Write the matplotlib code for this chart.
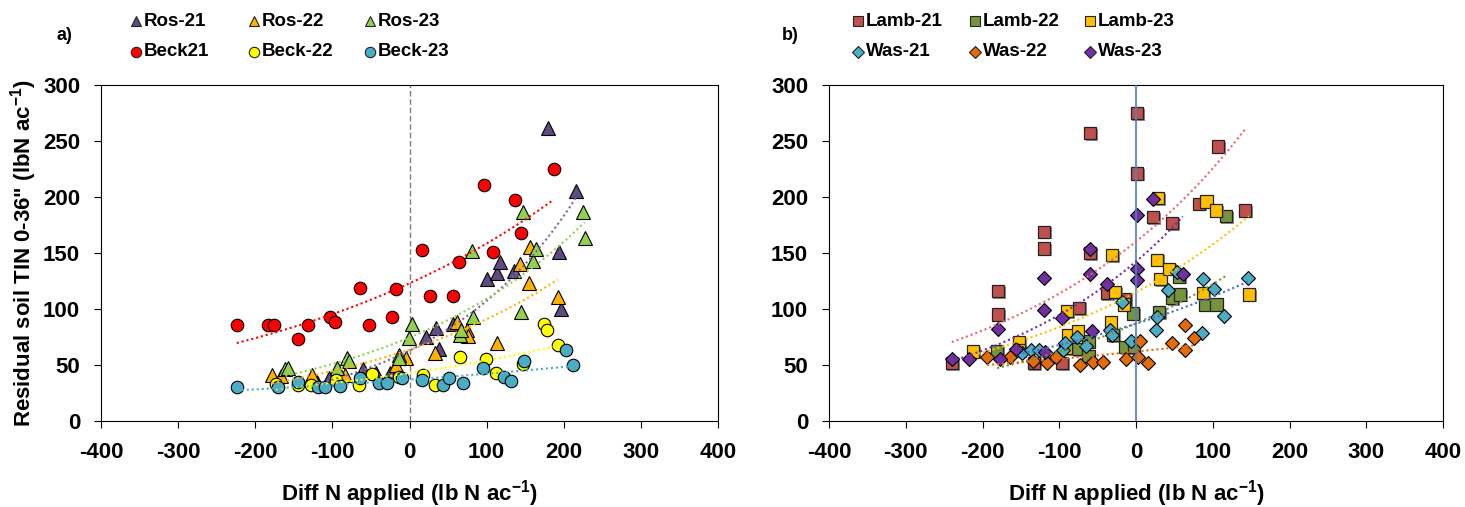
import matplotlib
matplotlib.use("Agg")
import matplotlib.pyplot as plt
import matplotlib.patheffects as pe
from matplotlib.lines import Line2D
import numpy as np

plt.rcParams['font.family'] = ['Liberation Sans', 'DejaVu Sans']
plt.rcParams['font.weight'] = 'bold'
plt.rcParams['axes.unicode_minus'] = False
plt.rcParams['mathtext.fontset'] = 'custom'
plt.rcParams['mathtext.rm'] = 'Liberation Sans:bold'
plt.rcParams['mathtext.default'] = 'rm'

# ---- panel a) data (Diff N applied, residual soil TIN) ----
ros21_x = [-120, -105, -60, -43, -25, 21, 34, 38, 56, 100, 113, 117, 135, 180, 194, 197, 216]
ros21_y = [35, 38, 46, 43, 43, 75, 83, 64, 87, 127, 132, 142, 134, 262, 151, 100, 205]
ros22_x = [-178, -166, -126, -84, -17, -5, 33, 62, 74, 76, 113, 143, 155, 156, 192]
ros22_y = [41, 40, 41, 41, 50, 56, 61, 88, 81, 76, 70, 140, 123, 155, 111]
ros23_x = [-161, -158, -94, -81, -78, -14, -13, -1, 3, 65, 67, 81, 82, 144, 147, 160, 164, 225, 227]
ros23_y = [46, 47, 47, 56, 54, 59, 56, 74, 87, 77, 81, 152, 93, 97, 187, 143, 154, 187, 163]
beck21_x = [-224, -183, -176, -145, -132, -103, -96, -64, -52, -23, -17, 16, 27, 56, 64, 96, 108, 137, 144, 187]
beck21_y = [86, 86, 86, 73, 86, 93, 88, 119, 86, 93, 118, 153, 112, 112, 142, 211, 151, 197, 168, 225]
beck22_x = [-173, -145, -128, -95, -65, -48, -13, 17, 33, 66, 99, 112, 147, 174, 178, 192]
beck22_y = [33, 32, 32, 37, 32, 42, 39, 41, 32, 57, 55, 43, 51, 87, 81, 68]
beck23_x = [-224, -170, -144, -118, -110, -90, -64, -39, -29, -10, 16, 43, 51, 70, 95, 122, 131, 149, 203, 212]
beck23_y = [30, 30, 35, 30, 30, 31, 38, 34, 34, 38, 37, 32, 38, 34, 47, 39, 36, 54, 63, 50]

# ---- panel b) data ----
lamb21_x = [-240, -180, -180, -133, -120, -120, -96, -74, -60, -60, -38, -14, 1, 1, 22, 47, 82, 107, 142]
lamb21_y = [52, 95, 116, 52, 154, 169, 52, 101, 150, 257, 114, 109, 221, 275, 182, 177, 194, 245, 188]
lamb22_x = [-181, -75, -62, -62, -30, -14, -4, -3, 30, 47, 56, 57, 90, 105, 117]
lamb22_y = [62, 64, 71, 58, 77, 66, 96, 66, 97, 110, 129, 113, 104, 104, 183]
lamb23_x = [-212, -152, -152, -92, -90, -88, -76, -33, -31, -27, -16, 27, 29, 32, 43, 87, 92, 104, 147]
lamb23_y = [62, 70, 63, 65, 98, 77, 80, 88, 148, 115, 104, 144, 199, 127, 136, 114, 196, 188, 113]
was21_x = [-148, -137, -126, -95, -92, -77, -65, -34, -31, -18, -6, 26, 27, 42, 53, 86, 87, 102, 115, 146]
was21_y = [61, 63, 63, 63, 70, 75, 67, 81, 77, 106, 71, 81, 93, 117, 133, 79, 127, 118, 94, 128]
was22_x = [-194, -164, -134, -116, -104, -73, -56, -43, -13, 2, 5, 16, 47, 64, 64, 76]
was22_y = [57, 57, 54, 52, 57, 50, 53, 53, 55, 57, 71, 52, 70, 86, 63, 74]
was23_x = [-240, -218, -180, -177, -156, -120, -120, -119, -96, -60, -60, -57, -38, 1, 1, 1, 22, 61]
was23_y = [55, 55, 82, 55, 64, 128, 99, 62, 92, 154, 131, 80, 122, 184, 136, 126, 198, 131]

xticks = [-400, -300, -200, -100, 0, 100, 200, 300, 400]
yticks = [0, 50, 100, 150, 200, 250, 300]

W, H = 1465, 507
fig = plt.figure(figsize=(W / 100, H / 100), dpi=100)


def px(x0, y0, x1, y1):
    return [x0 / W, 1 - y1 / H, (x1 - x0) / W, (y1 - y0) / H]


def trend(ax, x, y, color):
    x = np.asarray(x, float)
    y = np.asarray(y, float)
    b, a = np.polyfit(x, np.log(y), 1)
    xx = np.linspace(x.min(), x.max(), 100)
    ax.plot(xx, np.exp(a + b * xx), ls=(0, (1, 1.4)), color=color, lw=1.5, zorder=6)


def style(ax, ylabel=None):
    ax.set_xlim(-400, 400)
    ax.set_ylim(0, 300)
    ax.set_xticks(xticks)
    ax.set_yticks(yticks)
    ax.tick_params(direction='out', length=5, width=0.8, labelsize=16, pad=10)
    for s in ax.spines.values():
        s.set_linewidth(0.8)
    ax.set_xlabel('Diff N applied (lb N ac$^{-1}$)', fontsize=16, fontweight='bold', labelpad=11)
    if ylabel:
        ax.set_ylabel(ylabel, fontsize=16, fontweight='bold', labelpad=3)


shadow = [pe.SimplePatchShadow(offset=(1.2, -1.2), shadow_rgbFace='0.45', alpha=0.8), pe.Normal()]

# ---- panel a ----
ax1 = fig.add_axes(px(101, 85, 718, 421))
ax1.axvline(0, color='#7F7F7F', ls=(0, (4, 2)), lw=1.0, zorder=1)
seriesA = [
    ('Ros-21', ros21_x, ros21_y, '^', '#5F4B82', '#8064A2'),
    ('Ros-22', ros22_x, ros22_y, '^', '#FFB300', '#FFB300'),
    ('Ros-23', ros23_x, ros23_y, '^', '#92D050', '#92D050'),
    ('Beck21', beck21_x, beck21_y, 'o', '#FF0000', '#FF0000'),
    ('Beck-22', beck22_x, beck22_y, 'o', '#FFFF00', '#FFFF00'),
    ('Beck-23', beck23_x, beck23_y, 'o', '#4BACC6', '#4BACC6'),
]
for name, x, y, m, c, tc in seriesA:
    ms = 10 if m == '^' else 9
    ax1.plot(x, y, ls='none', marker=m, ms=ms, mfc=c, mec='black', mew=0.8, zorder=3)
for name, x, y, m, c, tc in seriesA:
    trend(ax1, x, y, tc)
style(ax1, 'Residual soil TIN 0-36" (lbN ac$^{-1}$)')

# ---- panel b ----
ax2 = fig.add_axes(px(829, 85, 1443, 421))
ax2.axvline(0, color='#4F81BD', lw=1.5, alpha=0.85, zorder=4)
seriesB = [
    ('Lamb-21', lamb21_x, lamb21_y, 's', '#C0504D', '#E06C6C'),
    ('Lamb-22', lamb22_x, lamb22_y, 's', '#77933C', '#77933C'),
    ('Lamb-23', lamb23_x, lamb23_y, 's', '#FFC000', '#FFC000'),
    ('Was-21', was21_x, was21_y, 'D', '#4BACC6', '#4472C4'),
    ('Was-22', was22_x, was22_y, 'D', '#E36C09', '#E36C09'),
    ('Was-23', was23_x, was23_y, 'D', '#7030A0', '#7030A0'),
]
for name, x, y, m, c, tc in seriesB:
    if m == 's':
        ax2.plot(x, y, ls='none', marker='s', ms=8.8, mfc=c, mec='#222222', mew=0.9,
                 zorder=3, path_effects=shadow)
    else:
        ax2.plot(x, y, ls='none', marker='D', ms=6.8, mfc=c, mec='black', mew=0.8, zorder=3)
for name, x, y, m, c, tc in seriesB:
    trend(ax2, x, y, tc)
style(ax2)

# ---- legends above panels (3 columns x 2 rows) ----
def legend_row(series, xs_marker, rows_y):
    for i, (name, x, y, m, c, tc) in enumerate(series):
        col, row = i % 3, i // 3
        mx = xs_marker[col]
        my = rows_y[row]
        ms = {'^': 7, 'o': 7.5, 's': 7, 'D': 6}[m]
        fig.add_artist(Line2D([mx / W], [1 - my / H], transform=fig.transFigure, ls='none',
                              marker=m, ms=ms, mfc=c, mec='#222222', mew=0.8))
        fig.text((mx + 8) / W, 1 - my / H, name, fontsize=13.5, fontweight='bold',
                 va='center', ha='left')


legend_row(seriesA, [136, 254, 370], [21, 52])
legend_row(seriesB, [858, 975, 1090], [21, 52])
fig.text(64 / W, 1 - 35 / H, 'a)', fontsize=13, fontweight='bold', ha='center', va='center')
fig.text(790 / W, 1 - 36 / H, 'b)', fontsize=13, fontweight='bold', ha='center', va='center')

fig.savefig('out.png', dpi=100)
